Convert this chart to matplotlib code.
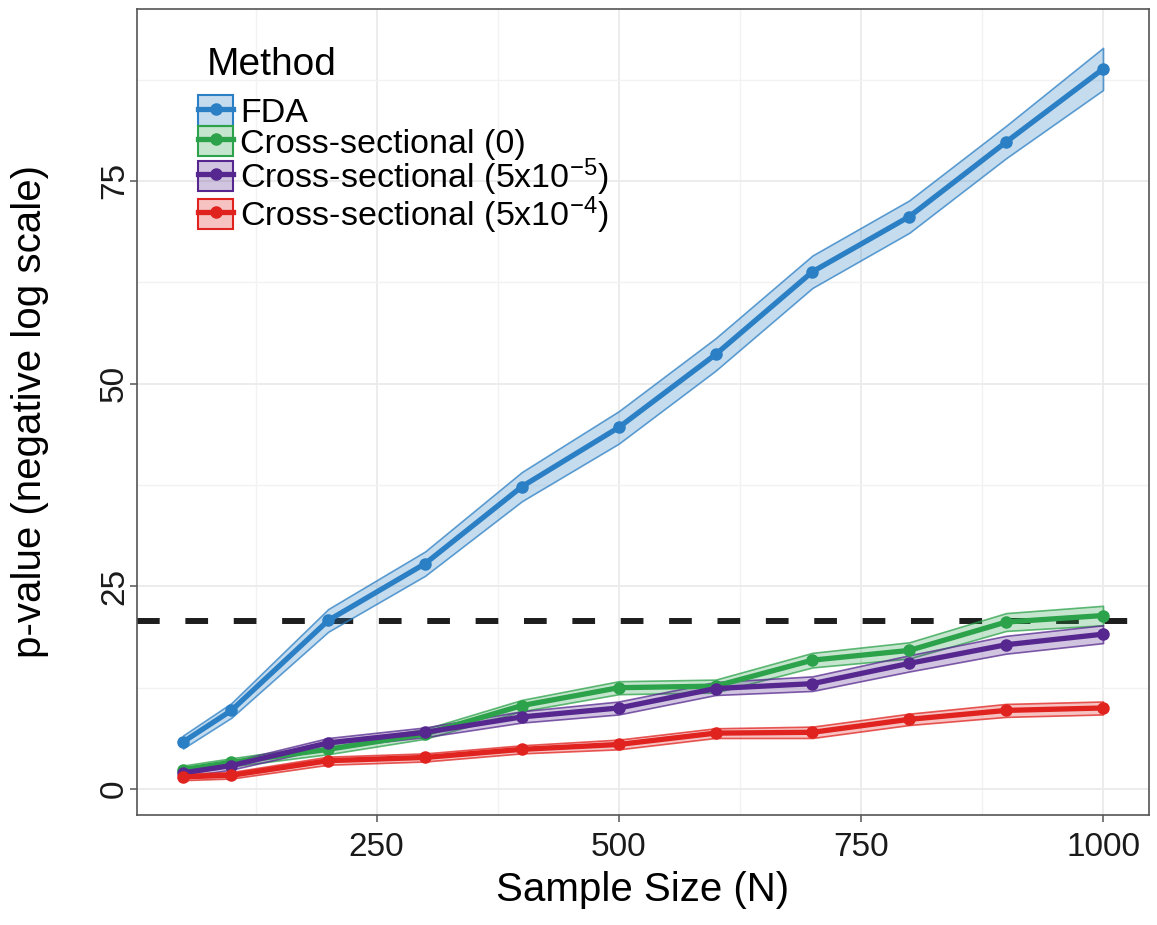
import matplotlib.pyplot as plt
from matplotlib.colors import to_rgba
from matplotlib.lines import Line2D
from matplotlib.patches import Patch
from matplotlib.ticker import MultipleLocator

plt.rcParams['font.family'] = ['Liberation Sans', 'DejaVu Sans']
plt.rcParams['mathtext.default'] = 'regular'

sample_size = [50, 100, 200, 300, 400, 500, 600, 700, 800, 900, 1000]

# mean -log p-value and half-width of the band, per method
fda = [5.8, 9.7, 20.8, 27.8, 37.3, 44.6, 53.6, 63.8, 70.6, 79.8, 88.8]
fda_err = [0.8, 0.9, 1.4, 1.5, 1.8, 2.0, 2.0, 2.0, 2.0, 2.0, 2.6]

cs_0 = [2.4, 3.3, 4.9, 6.8, 10.3, 12.5, 12.7, 15.9, 17.1, 20.6, 21.4]
cs_0_err = [0.5, 0.5, 0.6, 0.6, 0.7, 0.8, 0.8, 0.9, 1.0, 1.1, 1.2]

cs_5e5 = [2.0, 2.9, 5.7, 7.0, 8.9, 10.0, 12.4, 13.0, 15.5, 17.8, 19.1]
cs_5e5_err = [0.5, 0.5, 0.6, 0.6, 0.7, 0.8, 0.8, 0.9, 1.0, 1.1, 1.1]

cs_5e4 = [1.5, 1.7, 3.5, 3.9, 4.9, 5.5, 6.9, 7.0, 8.6, 9.7, 10.0]
cs_5e4_err = [0.4, 0.4, 0.5, 0.5, 0.5, 0.6, 0.6, 0.7, 0.7, 0.8, 0.8]

threshold = 20.7

methods = ["FDA", "Cross-sectional (0)",
           "Cross-sectional (5x10$^{-5}$)", "Cross-sectional (5x10$^{-4}$)"]
colors = ["#2b7fc4", "#2ca24a", "#56288f", "#e0231f"]
series = [(fda, fda_err), (cs_0, cs_0_err), (cs_5e5, cs_5e5_err), (cs_5e4, cs_5e4_err)]

fig = plt.figure(figsize=(11.57, 9.25), dpi=100)
ax = fig.add_axes([0.1184, 0.1189, 0.8747, 0.8714])

ax.axhline(threshold, color="#1e1e1e", lw=4.3, linestyle=(0, (3.8, 4.3)), zorder=1)

handles = []
for name, color, (mean, err) in zip(methods, colors, series):
    lo = [m - e for m, e in zip(mean, err)]
    hi = [m + e for m, e in zip(mean, err)]
    ax.fill_between(sample_size, lo, hi, facecolor=to_rgba(color, 0.27),
                    edgecolor=to_rgba(color, 0.75), linewidth=1.2, zorder=2)
    ax.plot(sample_size, mean, color=color, lw=3.8, marker="o", ms=8, zorder=3)
    handles.append((Patch(facecolor=to_rgba(color, 0.27), edgecolor=color, linewidth=1.5),
                    Line2D([], [], color=color, lw=3.8, marker="o", ms=8)))

ax.set_xlim(2.5, 1047.5)
ax.set_ylim(-3.2, 96.2)
ax.set_xticks([250, 500, 750, 1000])
ax.set_yticks([0, 25, 50, 75])
ax.xaxis.set_minor_locator(MultipleLocator(125))
ax.yaxis.set_minor_locator(MultipleLocator(12.5))
ax.grid(which="major", color="#ebebeb", lw=1.3, zorder=0)
ax.grid(which="minor", color="#f2f2f2", lw=1.0, zorder=0)
ax.set_axisbelow(True)

for side in ax.spines.values():
    side.set_color("#555555")
    side.set_linewidth(1.2)
ax.tick_params(which="major", length=5, width=1.1, color="#555555",
               labelsize=24, labelcolor="#1a1a1a", pad=7)
ax.tick_params(which="minor", length=0)
ax.tick_params(axis="y", labelrotation=90, pad=0)
for lab in ax.get_yticklabels():
    lab.set_va("center")

ax.set_xlabel("Sample Size (N)", fontsize=29, labelpad=6)
ax.set_ylabel("p-value (negative log scale)", fontsize=29, labelpad=36)

# legend title drawn on its own so the gap under it can be set freely
ax.text(0.069, 0.93, "Method", transform=ax.transAxes, fontsize=28,
        ha="left", va="center")
ax.legend(handles, methods, loc="upper left", bbox_to_anchor=(0.06, 0.893),
          frameon=False, fontsize=24.5,
          handlelength=1.05, handleheight=1.0, handletextpad=0.2,
          labelspacing=-0.1, borderpad=0.0, borderaxespad=0.0)

fig.savefig("out.png", dpi=100)
